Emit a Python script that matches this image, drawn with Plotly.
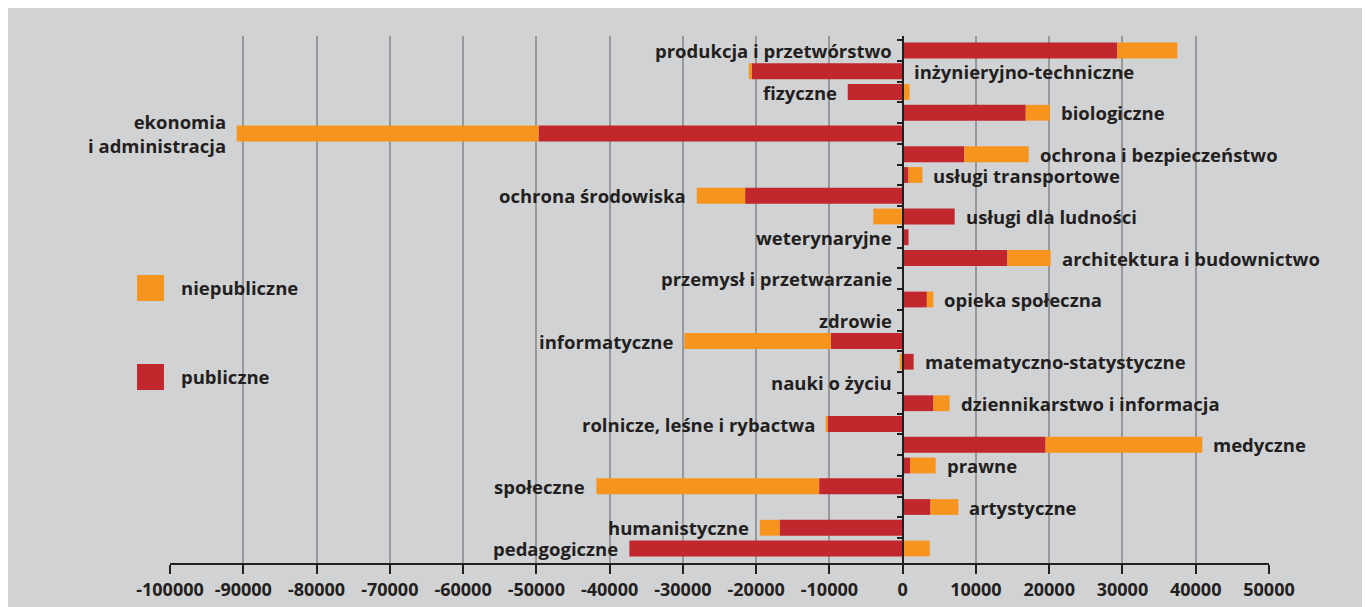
import plotly.graph_objects as go

# kierunki studiów, od góry do dołu
categories = [
    "produkcja i przetwórstwo", "inżynieryjno-techniczne", "fizyczne", "biologiczne",
    "ekonomia<br>i administracja", "ochrona i bezpieczeństwo", "usługi transportowe",
    "ochrona środowiska", "usługi dla ludności", "weterynaryjne",
    "architektura i budownictwo", "przemysł i przetwarzanie", "opieka społeczna",
    "zdrowie", "informatyczne", "matematyczno-statystyczne", "nauki o życiu",
    "dziennikarstwo i informacja", "rolnicze, leśne i rybactwa", "medyczne",
    "prawne", "społeczne", "artystyczne", "humanistyczne", "pedagogiczne",
]
publiczne = [
    29300, -20600, -7500, 16800, -49700, 8400, 800, -21500, 7100, 800,
    14300, 0, 3300, 0, -9800, 1500, 0, 4200, -10200, 19500,
    1000, -11400, 3800, -16800, -37300,
]
niepubliczne = [
    8200, -400, 950, 3300, -41200, 8800, 1900, -6600, -4000, 0,
    5900, 0, 900, 0, -20000, -400, 0, 2200, -300, 21400,
    3500, -30400, 3800, -2700, 3700,
]
tick_vals = list(range(-100000, 50001, 10000))
tick_labels = [str(v) for v in tick_vals]

# po której stronie słupka stoi podpis
label_side = ["L", "R", "L", "R", "L", "R", "R", "L", "R", "L", "R", "L", "R",
              "L", "L", "R", "L", "R", "L", "R", "R", "L", "R", "L", "L"]

RED = "#c1272d"
ORANGE = "#f7941d"
BG = "#d1d2d4"
INK = "#231f20"
FONT = "Open Sans"

fig = go.Figure()
fig.add_trace(go.Bar(y=categories, x=publiczne, orientation="h",
                     marker=dict(color=RED, line=dict(width=0)), name="publiczne"))
fig.add_trace(go.Bar(y=categories, x=niepubliczne, orientation="h",
                     marker=dict(color=ORANGE, line=dict(width=0)), name="niepubliczne"))

annotations = []
for cat, p, n, side in zip(categories, publiczne, niepubliczne, label_side):
    neg = min(p, 0) + min(n, 0)
    pos = max(p, 0) + max(n, 0)
    if side == "L":
        annotations.append(dict(x=neg, y=cat, text=cat, xanchor="right", xshift=-9,
                                align="right", showarrow=False))
    else:
        annotations.append(dict(x=pos, y=cat, text=cat, xanchor="left", xshift=9,
                                align="left", showarrow=False))

# legenda: kwadraty + opisy
legend_items = [("niepubliczne", ORANGE, 0.5465, 0.4972), ("publiczne", RED, 0.3776, 0.3283)]
shapes = []
for name, col, y1, y0 in legend_items:
    shapes.append(dict(type="rect", xref="paper", yref="paper", x0=-0.030, x1=-0.0055,
                       y0=y0, y1=y1, fillcolor=col, line=dict(width=0)))
    annotations.append(dict(xref="paper", yref="paper", x=0.0082, y=(y0 + y1) / 2,
                            text=name, xanchor="left", yanchor="middle", showarrow=False))

fig.update_layout(
    barmode="relative",
    bargap=0.24,
    width=1362, height=599,
    margin=dict(l=162, r=101, t=28, b=44),
    paper_bgcolor=BG,
    plot_bgcolor=BG,
    showlegend=False,
    font=dict(family=FONT, size=18.5, color=INK, weight=700),
    xaxis=dict(
        range=[-100000, 50000],
        tickvals=tick_vals, ticktext=tick_labels,
        tickfont=dict(size=18, family=FONT, color=INK, weight=700),
        showgrid=True, gridcolor="#96989b", gridwidth=1.5,
        zeroline=False, automargin=False,
        showline=True, linecolor=INK, linewidth=2,
        ticks="outside", ticklen=9, tickwidth=2, tickcolor=INK,
    ),
    yaxis=dict(
        autorange="reversed", automargin=False,
        anchor="free", position=2 / 3,
        showline=True, linecolor=INK, linewidth=2,
        ticks="outside", tickson="boundaries", ticklen=5, tickwidth=2, tickcolor=INK,
        showticklabels=False, showgrid=False,
    ),
    annotations=annotations,
    shapes=shapes,
)

fig.write_html("out.html")
